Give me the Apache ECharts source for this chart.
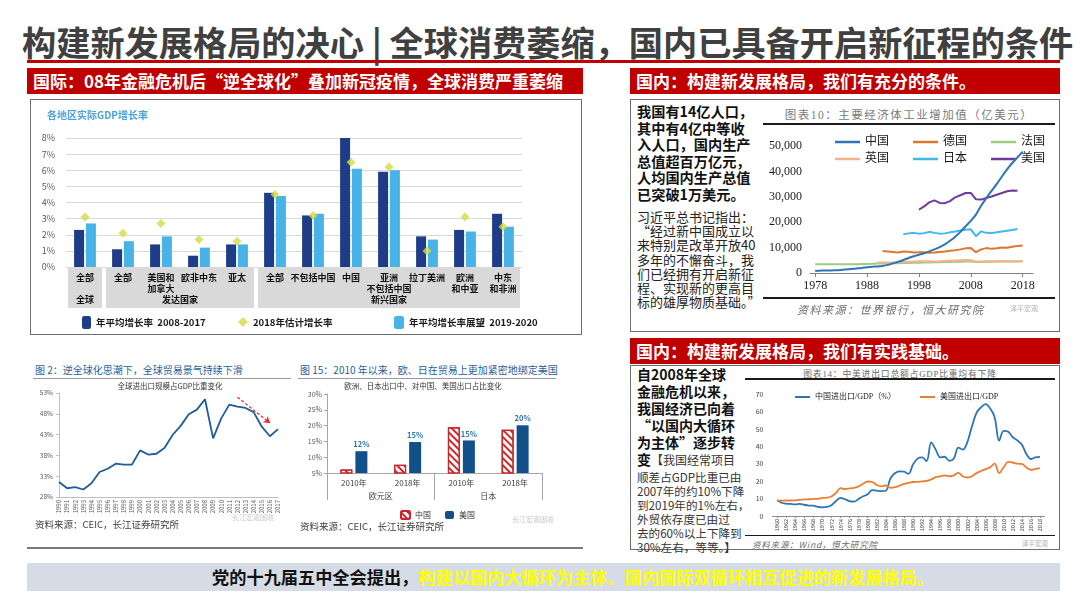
<!DOCTYPE html>
<html>
<head>
<meta charset="utf-8">
<script src="https://cdn.jsdelivr.net/npm/echarts@6.0.0/dist/echarts.min.js"></script>
<style>
  body { margin: 0; width: 1080px; height: 607px; position: relative; overflow: hidden; background: #fff;
         font-family: "Noto Sans CJK SC", "Noto Sans", sans-serif; }
  .abs { position: absolute; white-space: nowrap; }
  .hdr { position: absolute; background: #c00000; color: #fff; font-weight: bold; font-size: 17px;
         height: 26px; line-height: 26px; padding-left: 6px; box-sizing: border-box; }
  .box { position: absolute; border: 1.5px solid #6e6e6e; box-sizing: border-box; }
  .figt { position: absolute; color: #1f5f9e; font-size: 10px; white-space: nowrap; }
  .src { position: absolute; color: #404040; font-size: 9.5px; white-space: nowrap; }
  .chart { position: absolute; }
</style>
</head>
<body>
<div class="abs" style="left:22px;top:16px;font-size:34.2px;font-weight:bold;color:#404040;">构建新发展格局的决心 | 全球消费萎缩，国内已具备开启新征程的条件</div>
<div class="abs" style="left:27px;top:60px;width:1033px;height:3px;background:#c00000;"></div>

<div class="hdr" style="left:27px;top:68px;width:556px;">国际：08年金融危机后“逆全球化”叠加新冠疫情，全球消费严重萎缩</div>
<div class="hdr" style="left:630px;top:68px;width:430px;">国内：构建新发展格局，我们有充分的条件。</div>

<div class="box" style="left:30px;top:99px;width:552px;height:236px;"></div>
<div id="c1" class="chart" style="left:30px;top:100px;width:552px;height:235px;"></div>

<div class="figt" style="left:35px;top:362px;">图 2：逆全球化思潮下，全球贸易景气持续下滑</div>
<div class="abs" style="left:33px;top:378px;width:258px;height:1px;background:#9a9a9a;"></div>
<div id="c2" class="chart" style="left:30px;top:355px;width:262px;height:180px;"></div>
<div class="src" style="left:35px;top:517px;">资料来源：CEIC，长江证券研究所</div>
<div class="abs" style="left:232px;top:512px;font-size:7px;color:#c8c8c8;">长江宏观固收</div>

<div class="figt" style="left:300px;top:362px;">图 15：2010 年以来，欧、日在贸易上更加紧密地绑定美国</div>
<div class="abs" style="left:298px;top:378px;width:258px;height:1px;background:#9a9a9a;"></div>
<div id="c3" class="chart" style="left:295px;top:355px;width:270px;height:180px;"></div>
<div class="src" style="left:300px;top:519px;">资料来源：CEIC，长江证券研究所</div>
<div class="abs" style="left:512px;top:514px;font-size:7px;color:#c8c8c8;">长江宏观固收</div>

<div class="abs" style="left:27px;top:547px;width:556px;height:2px;background:#7a7a7a;"></div>

<div class="box" style="left:630px;top:99px;width:430px;height:233px;"></div>
<div class="abs" style="left:637px;top:103px;font-size:14.2px;font-weight:bold;line-height:16.6px;color:#111;">我国有14亿人口，<br>其中有4亿中等收<br>入人口，国内生产<br>总值超百万亿元，<br>人均国内生产总值<br>已突破1万美元。</div>
<div class="abs" style="left:637px;top:210px;font-size:13px;line-height:14.2px;color:#222;">习近平总书记指出：<br>“经过新中国成立以<br>来特别是改革开放40<br>多年的不懈奋斗，我<br>们已经拥有开启新征<br>程、实现新的更高目<br>标的雄厚物质基础。”</div>

<div class="abs" style="left:763px;top:106px;width:292px;text-align:center;font-size:11.5px;letter-spacing:1.5px;color:#7a7a7a;font-family:'Liberation Serif','Noto Sans CJK SC',serif;">图表10：主要经济体工业增加值（亿美元）</div>
<div class="abs" style="left:763px;top:123px;width:292px;height:2px;background:#1a1a1a;"></div>
<div id="c4" class="chart" style="left:760px;top:100px;width:300px;height:198px;"></div>
<div class="abs" style="left:763px;top:297px;width:292px;height:2px;background:#1a1a1a;"></div>
<div class="abs" style="left:797px;top:301px;font-size:11px;font-style:italic;letter-spacing:1.5px;color:#6a6a6a;">资料来源：世界银行，恒大研究院</div>
<div class="abs" style="left:1010px;top:303px;font-size:7px;color:#b0b0b0;">泽平宏观</div>

<div class="hdr" style="left:630px;top:338px;width:430px;">国内：构建新发展格局，我们有实践基础。</div>
<div class="box" style="left:630px;top:365px;width:430px;height:185px;"></div>
<div class="abs" style="left:637px;top:366px;font-size:14px;font-weight:bold;line-height:17px;color:#111;">自2008年全球<br>金融危机以来，<br>我国经济已向着<br>“以国内大循环<br>为主体”逐步转<br>变<span style="font-weight:normal;font-size:12px;color:#333;">【我国经常项目</span></div>
<div class="abs" style="left:637px;top:470px;font-size:11.6px;line-height:14px;color:#333;">顺差占GDP比重已由<br>2007年的约10%下降<br>到2019年的1%左右，<br>外贸依存度已由过<br>去的60%以上下降到<br>30%左右，等等。】</div>

<div class="abs" style="left:745px;top:367px;width:310px;text-align:center;font-size:8.8px;letter-spacing:0.8px;color:#6a6a6a;font-family:'Liberation Serif','Noto Sans CJK SC',serif;">图表14：中美进出口总额占GDP比重均有下降</div>
<div class="abs" style="left:745px;top:378px;width:310px;height:1.5px;background:#1a1a1a;"></div>
<div id="c5" class="chart" style="left:740px;top:365px;width:320px;height:170px;"></div>
<div class="abs" style="left:745px;top:535px;width:310px;height:1px;background:#1a1a1a;"></div>
<div class="abs" style="left:752px;top:538px;font-size:8.5px;font-style:italic;letter-spacing:0.8px;color:#6a6a6a;">资料来源：Wind，恒大研究院</div>
<div class="abs" style="left:1022px;top:538px;font-size:6.5px;color:#b0b0b0;">泽平宏观</div>

<div class="abs" style="left:27px;top:563px;width:1033px;height:28px;background:#d6dce5;"></div>
<div class="abs" style="left:212px;top:563px;line-height:28px;font-size:17.2px;font-weight:bold;color:#111;">党的十九届五中全会提出，<span style="color:#ffff00;">构建以国内大循环为主体、国内国际双循环相互促进的新发展格局。</span></div>

<script>
const FONT = '"Noto Sans CJK SC", "Noto Sans", sans-serif';
const SERIF = '"Liberation Serif", "Noto Sans CJK SC", serif';

// 图1 各地区实际GDP增长率
const gdpCats = ['全部', '全部', '美国和\n加拿大', '欧非中东', '亚太', '全部', '不包括中国', '中国', '亚洲\n不包括中国', '拉丁美洲', '欧洲\n和中亚', '中东\n和非洲'];
const gdpGroups = [['全球', 0, 0], ['发达国家', 1, 4], ['新兴国家', 5, 11]];
const gdpAvg0817 = [2.3, 1.1, 1.4, 0.7, 1.4, 4.6, 3.2, 8.2, 5.9, 1.9, 2.3, 3.3];
const gdpEst2018 = [3.1, 2.1, 2.7, 1.7, 1.6, 4.5, 3.2, 6.5, 6.2, 1.0, 3.1, 2.5];
const gdpOutlook1920 = [2.7, 1.6, 1.9, 1.2, 1.4, 4.4, 3.3, 6.1, 6.0, 1.7, 2.2, 2.5];

// 图2 全球进出口规模占GDP比重
const tradeYears = ['1990', '1991', '1992', '1993', '1994', '1995', '1996', '1997', '1998', '1999', '2000', '2001', '2002', '2003',
  '2004', '2005', '2006', '2007', '2008', '2009', '2010', '2011', '2012', '2013', '2014', '2015', '2016', '2017'];
const tradeShare = [31.6, 30.1, 30.4, 29.8, 31.3, 34.0, 34.8, 36.0, 35.8, 35.8, 39.2, 38.2, 38.4, 39.8,
  42.9, 45.1, 47.9, 49.0, 51.5, 42.1, 46.9, 50.2, 49.7, 49.4, 48.4, 44.9, 42.6, 44.3];
const tradeTicks = [28, 33, 38, 43, 48, 53];

// 图15 欧洲、日本出口中对中国、美国出口占比
const expCats = ['2010年', '2018年', '2010年', '2018年'];
const expRegions = ['欧元区', '日本'];
const expToChina = [6.1, 7.6, 19.5, 18.7];
const expToUS = [11.9, 14.8, 15.3, 20.1];

// 图表10 主要经济体工业增加值（亿美元）
const indYearTicks = [1978, 1988, 1998, 2008, 2018];
const indChina = [800, 900, 1000, 1000, 1100, 1200, 1400, 1600, 1800, 2000, 2300, 2500, 2600, 2800, 3200, 3800, 4400, 5100, 5900, 6600,
  7200, 7800, 8500, 9300, 10200, 11300, 12700, 14300, 16200, 18400, 20500, 23000, 26500, 29500, 32300, 35000, 38000, 40800, 43300, 45500, 47800];
const indGermany = [8700, 8500, 8300, 8100, 8500, 8400, 8100, 8200, 8200, 8000, 8100, 8300, 8500, 8800, 9000, 9300, 9700, 9800,
  8200, 9300, 9800, 9500, 9700, 10000, 9900, 10300, 10600, 10800];
const indFrance = [3400, 3400, 3400, 3400, 3400, 3400, 3400, 3400, 3450, 3500, 3550, 3600, 3700, 3750, 3800, 3800, 3850, 3900, 3950, 4000,
  4050, 4100, 4150, 4200, 4250, 4300, 4350, 4400, 4450, 4500, 4500, 4300, 4350, 4450, 4450, 4500, 4550, 4500, 4550, 4600, 4650];
const indUK = [4100, 4100, 4150, 4100, 4200, 4300, 4400, 4500, 4600, 4600, 4600, 4550, 4600, 4700, 4800, 4900, 5000, 5100, 5000,
  4500, 4500, 4600, 4600, 4600, 4700, 4600, 4500, 4500, 4600];
const indJapan = [15300, 15600, 15800, 15500, 15700, 16200, 15800, 15500, 15600, 16000, 16300, 16700, 17000, 17200, 14500,
  16400, 15800, 15700, 16000, 16300, 16600, 16900, 17300];
const indUS = [24900, 26200, 27800, 28600, 27600, 27500, 28300, 29800, 30600, 31500, 31500, 29000, 28900, 29500, 30100, 30800,
  31500, 32200, 32500, 32400];
const indStart = { china: 1978, germany: 1991, france: 1978, uk: 1990, japan: 1995, us: 1998 };

// 图表14 中美进出口总额占GDP比重
const openYearTicks = [1960, 1962, 1964, 1966, 1968, 1970, 1972, 1974, 1976, 1978, 1980, 1982, 1984, 1986, 1988,
  1990, 1992, 1994, 1996, 1998, 2000, 2002, 2004, 2006, 2008, 2010, 2012, 2014, 2016, 2018];
const openChina = [9.0, 7.6, 7.1, 6.9, 6.7, 6.9, 6.4, 6.0, 5.9, 5.3, 5.0, 5.2, 6.2, 8.6, 10.4, 9.6, 8.5, 8.2, 9.8, 11.3,
  12.5, 14.8, 14.5, 14.3, 14.5, 21.5, 24.5, 25.6, 25.4, 24.2, 29.6, 32.9, 33.6, 31.5, 42.2, 38.1, 33.6, 34.0, 31.6, 33.0,
  39.2, 38.1, 42.5, 51.5, 59.2, 62.4, 64.2, 61.8, 56.7, 43.2, 48.8, 48.3, 45.2, 43.4, 41.0, 35.6, 32.7, 33.6, 33.9];
const openUS = [9.0, 8.8, 8.9, 8.9, 9.0, 9.2, 9.5, 9.6, 9.8, 9.8, 10.4, 10.5, 11.2, 13.2, 16.0, 15.5, 15.8, 16.2, 17.0, 18.5,
  19.8, 19.5, 17.8, 17.0, 17.5, 16.2, 16.5, 17.4, 18.4, 19.0, 19.5, 19.6, 19.9, 20.1, 21.0, 22.3, 22.7, 23.3, 22.8, 23.3,
  24.8, 22.7, 22.1, 22.8, 24.6, 25.8, 26.9, 27.9, 30.0, 24.6, 28.0, 31.0, 30.7, 30.0, 29.9, 27.9, 26.5, 27.0, 27.5];
const openStart = 1960;
const turnYear = 2006.4;

const byYear = (start, vals) => vals.map((v, i) => [start + i, v]);

// ---------- chart 1
const c1 = echarts.init(document.getElementById('c1'));
const legendText = { fontSize: 9.5, fontWeight: 'bold', color: '#1a1a1a', fontFamily: FONT };
c1.setOption({
  animation: false,
  textStyle: { fontFamily: FONT },
  title: { text: '各地区实际GDP增长率', left: 12, top: 5, textStyle: { fontSize: 10, fontWeight: 'bold', color: '#4ea3da' } },
  legend: [
    { data: ['年平均增长率  2008-2017'], left: 47, top: 211, itemWidth: 9, itemHeight: 13, itemGap: 4, textStyle: legendText },
    { data: ['2018年估计增长率'], left: 203, top: 212, itemWidth: 10, itemHeight: 10, textStyle: legendText },
    { data: ['年平均增长率展望  2019-2020'], left: 359, top: 211, itemWidth: 10, itemHeight: 13, textStyle: legendText }
  ],
  grid: { left: 36, top: 38, width: 456, height: 129 },
  xAxis: {
    type: 'category', data: gdpCats, z: 5,
    axisLine: { show: false }, axisTick: { show: false },
    axisLabel: { interval: 0, fontSize: 9, fontWeight: 'bold', color: '#111', lineHeight: 11, margin: 5, verticalAlign: 'top' }
  },
  yAxis: {
    type: 'value', min: 0, max: 8, interval: 1,
    axisLine: { show: false }, axisTick: { show: false },
    axisLabel: { formatter: '{value}%', fontSize: 9, color: '#5a5a5a', margin: 11, padding: [0, 0, 8, 0] },
    splitLine: { lineStyle: { color: '#d9d9d9' } }
  },
  series: [
    { name: '年平均增长率  2008-2017', type: 'bar', data: gdpAvg0817, barWidth: 10, barGap: '18%', itemStyle: { color: '#1f3c88' } },
    { name: '年平均增长率展望  2019-2020', type: 'bar', data: gdpOutlook1920, barWidth: 10, itemStyle: { color: '#48b3e6' } },
    { name: '2018年估计增长率', type: 'scatter', data: gdpEst2018, symbol: 'diamond', symbolSize: 9, z: 5, itemStyle: { color: '#d5dc45' } }
  ]
});
(function () {
  const px = i => c1.convertToPixel({ xAxisIndex: 0 }, i);
  const band = px(1) - px(0);
  const y0 = c1.convertToPixel({ yAxisIndex: 0 }, 0) + 1;
  const els = [];
  gdpGroups.forEach(([name, s, e]) => {
    const x0 = px(s) - band / 2 + 2;
    const x1 = px(e) + band / 2 - 2;
    els.push({ type: 'rect', z: -10, shape: { x: x0, y: y0, width: x1 - x0, height: 40 }, style: { fill: '#d9d9d9' } });
    els.push({ type: 'text', z: 10, x: (x0 + x1) / 2, y: y0 + 32,
      style: { text: name, fill: '#111', font: 'bold 9px ' + FONT, align: 'center', verticalAlign: 'middle' } });
  });
  c1.setOption({ graphic: els });
})();

// ---------- chart 2
const c2 = echarts.init(document.getElementById('c2'));
c2.setOption({
  animation: false,
  textStyle: { fontFamily: FONT },
  graphic: [{ type: 'text', x: 140, y: 31, style: { text: '全球进出口规模占GDP比重变化', fill: '#333', font: '7.5px ' + FONT, align: 'center', verticalAlign: 'middle' } }],
  grid: { left: 29, top: 38, width: 219, height: 104 },
  xAxis: {
    type: 'category', data: tradeYears, boundaryGap: false,
    axisLine: { lineStyle: { color: '#bfbfbf' } }, axisTick: { show: false },
    axisLabel: { interval: 0, rotate: 90, fontSize: 6, color: '#595959', margin: 3 }
  },
  yAxis: {
    type: 'value', min: 28, max: 53,
    axisLine: { show: true, lineStyle: { color: '#bfbfbf' } },
    axisTick: { show: true, customValues: tradeTicks, length: 3, lineStyle: { color: '#bfbfbf' } },
    axisLabel: { customValues: tradeTicks, formatter: '{value}%', fontSize: 6.5, color: '#595959', margin: 6 },
    splitLine: { show: false }
  },
  series: [{
    type: 'line', data: tradeShare, symbol: 'none', lineStyle: { color: '#1f5c99', width: 1.8 },
    markLine: {
      silent: true, symbol: ['none', 'arrow'], symbolSize: 6, label: { show: false },
      lineStyle: { color: '#ff2020', type: [3, 2], width: 1.2 },
      data: [[{ coord: ['2012', 52] }, { coord: ['2016', 45.8] }]]
    }
  }]
});

// ---------- chart 3
const c3 = echarts.init(document.getElementById('c3'));
c3.setOption({
  animation: false,
  textStyle: { fontFamily: FONT },
  graphic: [{ type: 'text', x: 128, y: 31, style: { text: '欧洲、日本出口中、对中国、美国出口占比变化', fill: '#333', font: '7.5px ' + FONT, align: 'center', verticalAlign: 'middle' } }],
  legend: { data: ['中国', '美国'], left: 100, top: 150, itemWidth: 9, itemHeight: 8, itemGap: 14, textStyle: { fontSize: 8, color: '#333' } },
  grid: { left: 32, top: 39, width: 215, height: 79 },
  xAxis: [
    { type: 'category', data: expCats,
      axisLine: { lineStyle: { color: '#a6a6a6' } }, axisTick: { length: 13, lineStyle: { color: '#a6a6a6' } },
      axisLabel: { fontSize: 8, color: '#404040', margin: 6 } },
    { type: 'category', data: expRegions, position: 'bottom',
      axisLine: { show: false }, axisTick: { show: true, length: 27, lineStyle: { color: '#a6a6a6' } },
      axisLabel: { fontSize: 8, color: '#404040', margin: 19 } }
  ],
  yAxis: {
    type: 'value', min: 5, max: 30, interval: 5,
    axisLine: { show: true, lineStyle: { color: '#a6a6a6' } }, axisTick: { show: true, length: 3, lineStyle: { color: '#a6a6a6' } },
    axisLabel: { formatter: '{value}%', fontSize: 7, color: '#595959', margin: 5 },
    splitLine: { show: false }
  },
  series: [
    { name: '中国', type: 'bar', data: expToChina, barWidth: 12, barGap: '25%',
      itemStyle: { color: '#ffffff', borderColor: '#c8262a', borderWidth: 1.2,
        decal: { symbol: 'rect', color: '#d2282c', dashArrayX: [1, 0], dashArrayY: [2, 2.5], rotation: Math.PI / 4, symbolSize: 1 } } },
    { name: '美国', type: 'bar', data: expToUS, barWidth: 12, itemStyle: { color: '#12508a' },
      label: { show: true, position: 'top', distance: 3, formatter: p => Math.round(p.value) + '%', fontSize: 7.5, fontWeight: 'bold', color: '#2e75b6' } }
  ]
});

// ---------- chart 4
const c4 = echarts.init(document.getElementById('c4'));
const serifLegend = { fontSize: 12, color: '#1a1a1a', fontFamily: SERIF };
c4.setOption({
  animation: false,
  textStyle: { fontFamily: SERIF },
  legend: [
    { data: ['中国', '德国', '法国'], left: 70, top: 31, icon: 'rect', itemWidth: 25, itemHeight: 2.5, itemGap: 24, textStyle: serifLegend },
    { data: ['英国', '日本', '美国'], left: 70, top: 48, icon: 'rect', itemWidth: 25, itemHeight: 2.5, itemGap: 24, textStyle: serifLegend }
  ],
  grid: { left: 50, top: 46, width: 223, height: 127 },
  xAxis: {
    type: 'value', min: 1977, max: 2020,
    axisLine: { lineStyle: { color: '#7f7f7f' } },
    axisTick: { customValues: indYearTicks, length: 4, lineStyle: { color: '#7f7f7f' } },
    axisLabel: { customValues: indYearTicks, formatter: v => String(v), fontSize: 12, color: '#1a1a1a', margin: 7 },
    splitLine: { show: false }
  },
  yAxis: {
    type: 'value', min: 0, max: 50000, interval: 10000,
    axisLine: { show: false }, axisTick: { show: false },
    axisLabel: { formatter: v => v.toLocaleString('en-US'), fontSize: 12, color: '#1a1a1a', margin: 8 },
    splitLine: { show: false }
  },
  series: [
    { name: '中国', type: 'line', symbol: 'none', smooth: 0.3, data: byYear(indStart.china, indChina), lineStyle: { color: '#2e75b6', width: 2 }, itemStyle: { color: '#2e75b6' }, z: 6 },
    { name: '德国', type: 'line', symbol: 'none', data: byYear(indStart.germany, indGermany), lineStyle: { color: '#e0762e', width: 2 }, itemStyle: { color: '#e0762e' } },
    { name: '法国', type: 'line', symbol: 'none', data: byYear(indStart.france, indFrance), lineStyle: { color: '#9fcc7f', width: 2 }, itemStyle: { color: '#9fcc7f' } },
    { name: '英国', type: 'line', symbol: 'none', data: byYear(indStart.uk, indUK), lineStyle: { color: '#f2b38d', width: 2 }, itemStyle: { color: '#f2b38d' } },
    { name: '日本', type: 'line', symbol: 'none', data: byYear(indStart.japan, indJapan), lineStyle: { color: '#3fb8ec', width: 2 }, itemStyle: { color: '#3fb8ec' } },
    { name: '美国', type: 'line', symbol: 'none', data: byYear(indStart.us, indUS), lineStyle: { color: '#6f3aa0', width: 2 }, itemStyle: { color: '#6f3aa0' } }
  ]
});

// ---------- chart 5
const c5 = echarts.init(document.getElementById('c5'));
const smallSerif = { fontSize: 8, color: '#1a1a1a', fontFamily: SERIF };
c5.setOption({
  animation: false,
  textStyle: { fontFamily: FONT },
  legend: [
    { data: ['中国进出口/GDP（%）'], left: 50, top: 23, icon: 'rect', itemWidth: 15, itemHeight: 2, textStyle: smallSerif },
    { data: ['美国进出口/GDP'], left: 175, top: 23, icon: 'rect', itemWidth: 15, itemHeight: 2, textStyle: smallSerif }
  ],
  grid: { left: 32.5, top: 29, width: 272, height: 122 },
  xAxis: {
    type: 'value', min: 1959, max: 2019,
    axisLine: { lineStyle: { color: '#8c8c8c' } },
    axisTick: { customValues: openYearTicks, length: 2, lineStyle: { color: '#8c8c8c' } },
    axisLabel: { customValues: openYearTicks, formatter: v => String(v), rotate: 90, fontSize: 5.5, color: '#404040', margin: 3 },
    splitLine: { show: false }
  },
  yAxis: {
    type: 'value', min: 0, max: 70, interval: 10,
    axisLine: { show: false }, axisTick: { show: false },
    axisLabel: { fontSize: 7, color: '#404040', margin: 9 },
    splitLine: { show: false }
  },
  series: [
    { name: '中国进出口/GDP（%）', type: 'line', symbol: 'none', smooth: 0.35, data: byYear(openStart, openChina),
      lineStyle: { color: '#2e75b6', width: 1.8 }, itemStyle: { color: '#2e75b6' },
      markLine: { silent: true, symbol: 'none', label: { show: false }, lineStyle: { color: '#ff0000', type: [5, 3], width: 2 },
        data: [[{ coord: [turnYear, 72.5] }, { coord: [turnYear, 2.5] }]] } },
    { name: '美国进出口/GDP', type: 'line', symbol: 'none', smooth: 0.35, data: byYear(openStart, openUS),
      lineStyle: { color: '#ed7d31', width: 1.8 }, itemStyle: { color: '#ed7d31' } }
  ]
});
</script>
</body>
</html>
